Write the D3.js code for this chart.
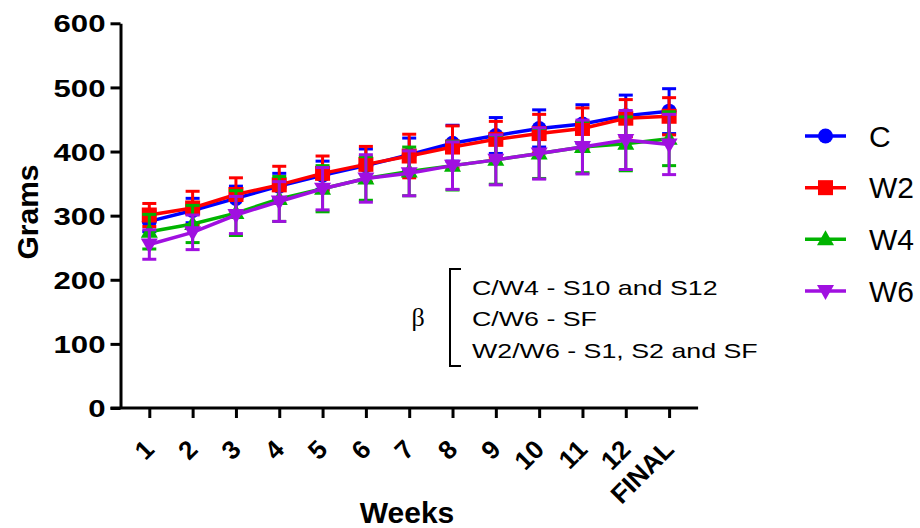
<!DOCTYPE html>
<html>
<head>
<meta charset="utf-8">
<script src="https://cdn.jsdelivr.net/npm/d3@7"></script>
<style>
  body { margin: 0; background: #fff; }
  text { font-family: "Liberation Sans", Arial, sans-serif; }
</style>
</head>
<body>
<div id="chart"></div>
<script>
// week labels on the x axis
let weeks = ["1", "2", "3", "4", "5", "6", "7", "8", "9", "10", "11", "12", "FINAL"];
let yTicks = [0, 100, 200, 300, 400, 500, 600];

// mean body weight (grams) per group
let meanC  = [291, 308, 327, 346, 363, 378, 395, 413, 425, 436, 443, 456, 463];
let meanW2 = [301, 312, 333, 348, 366, 380, 393, 407, 419, 428, 436, 452, 455];
let meanW4 = [275, 287, 304, 326, 342, 358, 369, 378, 387, 397, 407, 412, 420];
let meanW6 = [255, 274, 301, 322, 342, 358, 366, 378, 387, 397, 407, 418, 411];

// standard deviations (error bars)
let sdC  = [16, 19, 19, 20, 22, 26, 26, 28, 28, 29, 30, 32, 35];
let sdW2 = [18, 26, 26, 29, 27, 28, 34, 33, 28, 30, 32, 29, 29];
let sdW4 = [27, 29, 35, 35, 36, 34, 38, 38, 38, 39, 40, 42, 42];
let sdW6 = [23, 27, 29, 31, 33, 37, 35, 37, 39, 40, 42, 46, 47];

let groupNames = ["C", "W2", "W4", "W6"];
let noteLines = ["C/W4 - S10 and S12", "C/W6 - SF", "W2/W6 - S1, S2 and SF"];

let series = [
  { name: groupNames[0], mean: meanC,  sd: sdC,  color: "#0000ff", symbol: "circle" },
  { name: groupNames[1], mean: meanW2, sd: sdW2, color: "#ff0000", symbol: "square" },
  { name: groupNames[2], mean: meanW4, sd: sdW4, color: "#00b400", symbol: "up" },
  { name: groupNames[3], mean: meanW6, sd: sdW6, color: "#a010e0", symbol: "down" }
];

let width = 920;
let height = 528;

let svg = d3.select("#chart")
  .append("svg")
  .attr("width", width)
  .attr("height", height);

svg.append("rect").attr("width", width).attr("height", height).attr("fill", "#fff");

let xScale = d3.scalePoint()
  .domain(weeks)
  .range([149.3, 669.1]);

let yScale = d3.scaleLinear()
  .domain([0, 600])
  .range([408, 23.3]);

let axisX = 120.5;

// y axis
let yAxis = svg.append("g")
  .attr("transform", "translate(" + axisX + ",0)")
  .call(d3.axisLeft(yScale).tickValues(yTicks).tickSize(10).tickSizeOuter(0).tickPadding(4));
yAxis.select(".domain").attr("stroke-width", 3).attr("stroke", "#000");
yAxis.selectAll(".tick line").attr("stroke-width", 3);
yAxis.selectAll("text")
  .attr("x", -15 / 1.3)
  .attr("transform", "scale(1.3,1)")
  .style("font-size", "24px")
  .style("font-weight", "bold")
  .attr("dy", "0.36em");

// x axis (line drawn separately so it reaches the 0 tick)
let xAxis = svg.append("g")
  .attr("transform", "translate(0," + yScale(0) + ")")
  .call(d3.axisBottom(xScale).tickSize(10).tickSizeOuter(0));
xAxis.select(".domain").remove();
xAxis.selectAll(".tick line").attr("stroke-width", 3);
xAxis.selectAll("text")
  .attr("y", 0)
  .attr("dy", 0)
  .attr("transform", "translate(6,43) rotate(-45)")
  .style("text-anchor", "end")
  .style("font-size", "26px")
  .style("font-weight", "bold");

svg.append("line")
  .attr("x1", axisX - 10)
  .attr("x2", xScale("FINAL") + 29)
  .attr("y1", yScale(0))
  .attr("y2", yScale(0))
  .attr("stroke", "#000")
  .attr("stroke-width", 3);

// axis titles
svg.append("text")
  .attr("transform", "translate(38,212) rotate(-90)")
  .attr("text-anchor", "middle")
  .style("font-size", "30px")
  .style("font-weight", "bold")
  .text("Grams");

svg.append("text")
  .attr("x", 407)
  .attr("y", 523)
  .attr("text-anchor", "middle")
  .style("font-size", "30px")
  .style("font-weight", "bold")
  .text("Weeks");

// marker shapes
function drawSymbol(g, type, x, y, color) {
  if (type === "circle") {
    g.append("circle").attr("cx", x).attr("cy", y).attr("r", 7.5).attr("fill", color);
  } else if (type === "square") {
    g.append("rect").attr("x", x - 7.5).attr("y", y - 7.5).attr("width", 15).attr("height", 15).attr("fill", color);
  } else if (type === "up") {
    g.append("path").attr("d", "M" + x + "," + (y - 9) + "L" + (x + 8.5) + "," + (y + 6) + "L" + (x - 8.5) + "," + (y + 6) + "Z").attr("fill", color);
  } else {
    g.append("path").attr("d", "M" + x + "," + (y + 9) + "L" + (x + 8.5) + "," + (y - 6) + "L" + (x - 8.5) + "," + (y - 6) + "Z").attr("fill", color);
  }
}

let line = d3.line()
  .x(function(d, i) { return xScale(weeks[i]); })
  .y(function(d) { return yScale(d); });

// each group drawn in turn: error bars, line, symbols
series.forEach(function(s) {
  let g = svg.append("g");

  s.mean.forEach(function(m, i) {
    let x = xScale(weeks[i]);
    let top = yScale(m + s.sd[i]);
    let bottom = yScale(m - s.sd[i]);
    g.append("line").attr("x1", x).attr("x2", x).attr("y1", top).attr("y2", bottom)
      .attr("stroke", s.color).attr("stroke-width", 3);
    g.append("line").attr("x1", x - 7).attr("x2", x + 7).attr("y1", top).attr("y2", top)
      .attr("stroke", s.color).attr("stroke-width", 3);
    g.append("line").attr("x1", x - 7).attr("x2", x + 7).attr("y1", bottom).attr("y2", bottom)
      .attr("stroke", s.color).attr("stroke-width", 3);
  });

  g.append("path")
    .datum(s.mean)
    .attr("d", line)
    .attr("fill", "none")
    .attr("stroke", s.color)
    .attr("stroke-width", 3.5);

  s.mean.forEach(function(m, i) {
    drawSymbol(g, s.symbol, xScale(weeks[i]), yScale(m), s.color);
  });
});

// legend
let legendY = d3.scalePoint().domain(groupNames).range([136, 291]);
series.forEach(function(s) {
  let y = legendY(s.name);
  svg.append("line").attr("x1", 805).attr("x2", 846).attr("y1", y).attr("y2", y)
    .attr("stroke", s.color).attr("stroke-width", 3.5);
  drawSymbol(svg, s.symbol, 825.5, y, s.color);
  svg.append("text")
    .attr("x", 869)
    .attr("y", y)
    .attr("dy", "0.36em")
    .style("font-size", "30px")
    .text(s.name);
});

// significance note
svg.append("text")
  .attr("x", 418)
  .attr("y", 326)
  .attr("text-anchor", "middle")
  .style("font-family", "'Liberation Serif', 'Times New Roman', serif")
  .style("font-size", "26px")
  .text("β");

svg.append("path")
  .attr("d", "M461,269H450V366H461")
  .attr("fill", "none")
  .attr("stroke", "#000")
  .attr("stroke-width", 2);

noteLines.forEach(function(t, i) {
  svg.append("text")
    .attr("transform", "translate(472," + (294.5 + i * 31.7) + ") scale(1.34,1)")
    .style("font-size", "20px")
    .text(t);
});
</script>
</body>
</html>
